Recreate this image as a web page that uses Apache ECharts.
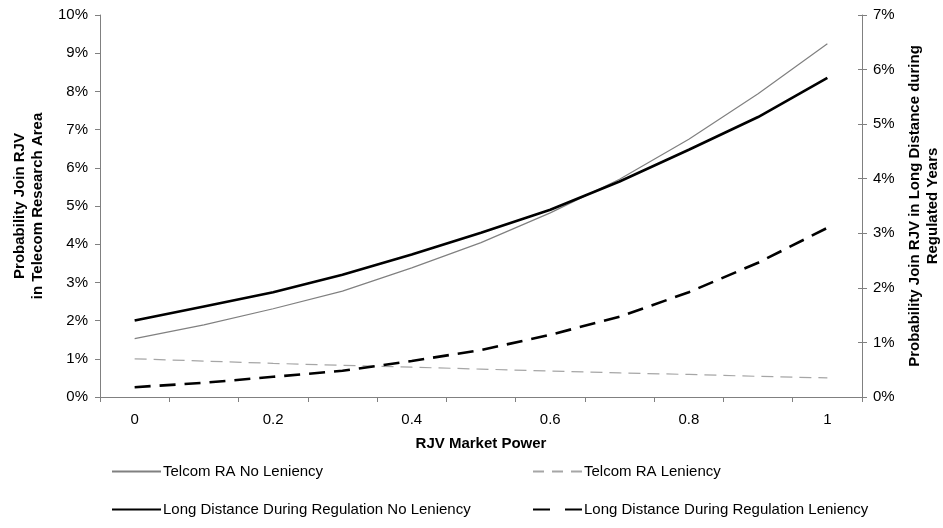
<!DOCTYPE html>
<html>
<head>
<meta charset="utf-8">
<script src="https://cdn.jsdelivr.net/npm/echarts@6/dist/echarts.min.js"></script>
<style>
html,body{margin:0;padding:0;background:#fff;}
#chart{width:943px;height:528px;}
</style>
</head>
<body>
<div id="chart"></div>
<script>
const categories = ['0','0.1','0.2','0.3','0.4','0.5','0.6','0.7','0.8','0.9','1'];
const telcomNoLeniency = [1.53, 1.89, 2.31, 2.77, 3.38, 4.04, 4.82, 5.70, 6.75, 7.94, 9.25];
const telcomLeniency = [1.00, 0.94, 0.88, 0.83, 0.78, 0.73, 0.68, 0.63, 0.59, 0.54, 0.50];
const ldNoLeniency = [1.40, 1.66, 1.92, 2.24, 2.61, 3.01, 3.43, 3.95, 4.53, 5.13, 5.85];
const ldLeniency = [0.18, 0.26, 0.37, 0.48, 0.66, 0.86, 1.14, 1.47, 1.92, 2.46, 3.10];
const leftTicks = [0,1,2,3,4,5,6,7,8,9,10];
const rightTicks = [0,1,2,3,4,5,6,7];

const FONT = 'Liberation Sans, Arial, sans-serif';
const chart = echarts.init(document.getElementById('chart'), null, {renderer:'canvas'});
function mkLegend(name, left, top, extraLine) {
  const lg = {
    data: [name], left: left, top: top,
    itemWidth: 49, itemHeight: 14, itemGap: 2,
    itemStyle: {color: 'rgba(0,0,0,0)', borderWidth: 0, opacity: 0},
    textStyle: {fontFamily: FONT, fontSize: 15, color: '#000', lineHeight: 14, padding: [0,0,0,-3]}
  };
  if (extraLine) lg.lineStyle = extraLine;
  return lg;
}
chart.setOption({
  animation: false,
  backgroundColor: '#fff',
  grid: {left: 100, right: 81, top: 15, bottom: 131, containLabel: false, outerBoundsMode: 'none'},
  legend: [
    mkLegend('Telcom RA No Leniency', 106, 459),
    mkLegend('Telcom RA Leniency', 527, 459, {type: [11, 8]}),
    mkLegend('Long Distance During Regulation No Leniency', 106, 497),
    mkLegend('Long Distance During Regulation Leniency', 527, 497, {type: [17, 15]})
  ],
  xAxis: {
    type: 'category',
    data: categories,
    boundaryGap: true,
    name: 'RJV Market Power',
    nameLocation: 'middle',
    nameGap: 39,
    nameTextStyle: {fontFamily: FONT, fontSize: 15, fontWeight: 'bold', color: '#000'},
    axisLine: {lineStyle: {color: '#808080', width: 1}},
    axisTick: {show: true, interval: 0, length: 5, lineStyle: {color: '#808080'}},
    axisLabel: {interval: 1, fontFamily: FONT, fontSize: 15, color: '#000', margin: 15},
    splitLine: {show: false}
  },
  yAxis: [
    {
      type: 'value', min: leftTicks[0], max: leftTicks[leftTicks.length-1], interval: 1,
      position: 'left',
      name: 'Probability Join RJV\nin Telecom Research Area',
      nameLocation: 'middle', nameGap: 53, nameRotate: 90,
      nameTextStyle: {fontFamily: FONT, fontSize: 15, fontWeight: 'bold', color: '#000', lineHeight: 18},
      axisLine: {show: true, lineStyle: {color: '#808080', width: 1}},
      axisTick: {show: true, length: 5, lineStyle: {color: '#808080'}},
      axisLabel: {formatter: v => v + '%', fontFamily: FONT, fontSize: 15, color: '#000', margin: 12},
      splitLine: {show: false}
    },
    {
      type: 'value', min: rightTicks[0], max: rightTicks[rightTicks.length-1], interval: 1,
      position: 'right',
      name: 'Probability Join RJV in Long Distance during\nRegulated Years',
      nameLocation: 'middle', nameGap: 40, nameRotate: 90,
      nameTextStyle: {fontFamily: FONT, fontSize: 15, fontWeight: 'bold', color: '#000', lineHeight: 18},
      axisLine: {show: true, lineStyle: {color: '#808080', width: 1}},
      axisTick: {show: true, length: 5, lineStyle: {color: '#808080'}},
      axisLabel: {formatter: v => v + '%', fontFamily: FONT, fontSize: 15, color: '#000', margin: 11},
      splitLine: {show: false}
    },
    {
      type: 'value', min: rightTicks[0], max: rightTicks[rightTicks.length-1], interval: 1,
      position: 'right',
      axisLine: {show: false},
      axisTick: {show: true, inside: true, length: 4, lineStyle: {color: '#808080'}},
      axisLabel: {show: false},
      splitLine: {show: false}
    }
  ],
  series: [
    {
      name: 'Telcom RA No Leniency', type: 'line', yAxisIndex: 0, data: telcomNoLeniency,
      symbol: 'none', lineStyle: {color: '#808080', width: 1.2}, itemStyle: {color: '#808080'}
    },
    {
      name: 'Telcom RA Leniency', type: 'line', yAxisIndex: 0, data: telcomLeniency,
      symbol: 'none', lineStyle: {color: '#a6a6a6', width: 1.2, type: [12, 7]}, itemStyle: {color: '#a6a6a6'}
    },
    {
      name: 'Long Distance During Regulation No Leniency', type: 'line', yAxisIndex: 1, data: ldNoLeniency,
      symbol: 'none', lineStyle: {color: '#000', width: 2.6}, itemStyle: {color: '#000'}
    },
    {
      name: 'Long Distance During Regulation Leniency', type: 'line', yAxisIndex: 1, data: ldLeniency,
      symbol: 'none', lineStyle: {color: '#000', width: 2.6, type: [16, 9]}, itemStyle: {color: '#000'}
    }
  ]
});
</script>
</body>
</html>
